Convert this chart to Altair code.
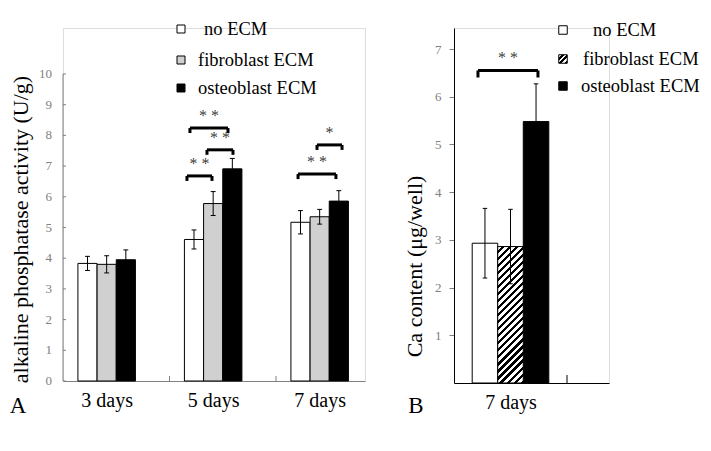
import altair as alt
import pandas as pd

# ---------------- data ----------------
days_a = ["3 days", "5 days", "7 days"]
series = ["no ECM", "fibroblast ECM", "osteoblast ECM"]
alp_no = [3.83, 4.61, 5.17]
alp_fib = [3.80, 5.78, 5.35]
alp_ost = [3.95, 6.91, 5.86]
alp_no_sd = [0.23, 0.31, 0.38]
alp_fib_sd = [0.28, 0.39, 0.24]
alp_ost_sd = [0.32, 0.34, 0.34]
alp_ticks = [0, 1, 2, 3, 4, 5, 6, 7, 8, 9, 10]

sig_a_x1 = [1.164, 1.352, 1.192, 2.207, 2.385]
sig_a_x2 = [1.399, 1.596, 1.549, 2.563, 2.620]
sig_a_y = [6.68, 7.53, 8.24, 6.74, 7.69]
sig_a_txt = ["* *", "* *", "* *", "* *", "*"]

days_b = ["7 days"]
ca_mean = [2.93, 2.86, 5.48]
ca_sd = [0.73, 0.78, 0.79]
ca_ticks = [1, 2, 3, 4, 5, 6, 7]
sig_b_x1 = [0.212]
sig_b_x2 = [0.743]
sig_b_y = [6.55]
sig_b_txt = ["* *"]

# ---------------- layout / style ----------------
FONT = "Liberation Serif"
HA, HB = 353, 355
WA, PXA, PYA = 302, 106.5, 30.7
WB, PXB, PYB = 155, 113.0, 47.71
CA, BWA = 0.41, 0.18
CB, BWB = 0.5, 0.226
GREY = "#808080"
FIB_GREY = "#d0d0d0"
LEG_FS = 18.5


def stripes(n, x2, y2, black=0.45):
    stops = []
    for p in range(n):
        a, b, c = p / n, (p + 1 - black) / n, (p + 1) / n
        stops += [{"color": "white", "offset": a}, {"color": "white", "offset": b},
                  {"color": "black", "offset": b}, {"color": "black", "offset": c}]
    return {"gradient": "linear", "x1": 0, "y1": 0, "x2": x2, "y2": y2, "stops": stops}


def one(**kw):
    return pd.DataFrame({k: [v] for k, v in kw.items()})


# ---------------- panel A ----------------
means_a = [alp_no, alp_fib, alp_ost]
sds_a = [alp_no_sd, alp_fib_sd, alp_ost_sd]
rows = []
for gi, d in enumerate(days_a):
    for si, s in enumerate(series):
        left = gi + CA + (si - 1.5) * BWA
        m, e = means_a[si][gi], sds_a[si][gi]
        rows.append(dict(day=d, series=s, left=left, right=left + BWA, mid=left + BWA / 2,
                         mean=m, lo=m - e, hi=m + e, cl=left + BWA / 2 - 0.023, cr=left + BWA / 2 + 0.023))
dfa = pd.DataFrame(rows)

xA = alt.Scale(domain=[0, WA / PXA], nice=False, zero=False)
yA = alt.Scale(domain=[0, HA / PYA], nice=False)
label_expr_a = " : ".join(
    [f"datum.value < {i + 1} ? '{d}'" for i, d in enumerate(days_a[:-1])]) + f" : '{days_a[-1]}'"

bars_a = alt.Chart(dfa).mark_bar(stroke="black", strokeWidth=1).encode(
    x=alt.X("left:Q", scale=xA, axis=alt.Axis(
        values=[i + CA for i in range(len(days_a))], labelExpr=label_expr_a, title=None,
        ticks=False, grid=False, domainColor=GREY, labelFont=FONT, labelFontSize=20,
        labelColor="black", labelPadding=9)),
    x2="right:Q",
    y=alt.Y("mean:Q", scale=yA, axis=alt.Axis(
        values=alp_ticks, grid=False, domain=False, ticks=False, labels=False,
        title="alkaline phosphatase activity (U/g)", titleFont=FONT, titleFontSize=22,
        titleFontWeight="normal", titleColor="black", titlePadding=31, titleY=201)),
    y2=alt.datum(0),
    color=alt.Color("series:N", scale=alt.Scale(domain=series, range=["white", FIB_GREY, "black"]),
                    legend=None),
)
err_a = alt.Chart(dfa).mark_rule(color="black", strokeWidth=1).encode(x="mid:Q", y="lo:Q", y2="hi:Q")
cap_a_hi = alt.Chart(dfa).mark_rule(color="black", strokeWidth=1).encode(x="cl:Q", x2="cr:Q", y="hi:Q")
cap_a_lo = alt.Chart(dfa).mark_rule(color="black", strokeWidth=1).encode(x="cl:Q", x2="cr:Q", y="lo:Q")

yaxis_a = alt.Chart(one(a=0)).mark_rule(color=GREY, strokeWidth=1).encode(
    x=alt.value(0), y=alt.datum(0), y2=alt.datum(alp_ticks[-1]))
dticks = pd.DataFrame({"t": alp_ticks})
ytick_a = alt.Chart(dticks).mark_rule(color=GREY).encode(
    y="t:Q", x=alt.value(0), x2=alt.value(3))
ylab_a = alt.Chart(dticks).mark_text(font=FONT, fontSize=13, color=GREY, align="right",
                                     baseline="middle").encode(y="t:Q", x=alt.value(-11), text="t:Q")
sep_a = alt.Chart(pd.DataFrame({"s": [1, 2]})).mark_rule(color=GREY).encode(
    x="s:Q", y=alt.value(HA), y2=alt.value(HA - 5))

dsa = pd.DataFrame({"x1": sig_a_x1, "x2": sig_a_x2, "y": sig_a_y, "t": sig_a_txt})
dsa["yd"] = dsa["y"] - 5 / PYA
dsa["ty"] = dsa["y"] + 12 / PYA
br_a = alt.Chart(dsa).mark_rule(color="black", strokeWidth=3).encode(x="x1:Q", x2="x2:Q", y="y:Q")
brl_a = alt.Chart(dsa).mark_rule(color="black", strokeWidth=3).encode(x="x1:Q", y="y:Q", y2="yd:Q")
brr_a = alt.Chart(dsa).mark_rule(color="black", strokeWidth=3).encode(x="x2:Q", y="y:Q", y2="yd:Q")
st_a = alt.Chart(dsa).transform_calculate(xm="(datum.x1 + datum.x2) / 2").mark_text(
    font=FONT, fontSize=16, color="#333333", fillOpacity=0.99, baseline="middle").encode(
    x="xm:Q", y="ty:Q", text="t:N")

leg_a = []
leg_a_fill = ["white", FIB_GREY, "black"]
leg_a_tx = [141, 135, 135]
leg_a_y = [1, 32, 60]
for i, s in enumerate(series):
    d = one(series=s)
    leg_a.append(alt.Chart(d).mark_square(size=64, fill=leg_a_fill[i], stroke="black", strokeWidth=1,
                                          opacity=1).encode(x=alt.value(118), y=alt.value(leg_a_y[i])))
    leg_a.append(alt.Chart(d).mark_text(font=FONT, fontSize=LEG_FS, align="left", baseline="middle",
                                        color="black").encode(
        x=alt.value(leg_a_tx[i]), y=alt.value(leg_a_y[i]), text="series:N"))

letter_a = alt.Chart(one(t="A")).mark_text(font=FONT, fontSize=23, baseline="middle", color="black").encode(
    x=alt.value(-45), y=alt.value(HA + 25), text="t:N")
anchor_a = alt.Chart(one(a=0)).mark_rule(strokeOpacity=0).encode(x=alt.value(0), y=alt.value(-19), y2=alt.value(0))

panel_a = alt.layer(bars_a, err_a, cap_a_hi, cap_a_lo, yaxis_a, ytick_a, ylab_a, sep_a, br_a, brl_a, brr_a,
                    st_a, *leg_a, letter_a, anchor_a).properties(width=WA, height=HA)

# ---------------- panel B ----------------
rows = []
for si, s in enumerate(series):
    left = CB + (si - 1.5) * BWB
    m, e = ca_mean[si], ca_sd[si]
    rows.append(dict(series=s, left=left, right=left + BWB, mid=left + BWB / 2, mean=m,
                     lo=m - e, hi=m + e, cl=left + BWB / 2 - 0.02, cr=left + BWB / 2 + 0.02))
dfb = pd.DataFrame(rows)

xB = alt.Scale(domain=[0, WB / PXB], nice=False, zero=False)
yB = alt.Scale(domain=[0, HB / PYB], nice=False)

bw_px = BWB * PXB
bh_px = ca_mean[1] * PYB
ratio = bw_px / bh_px
k = (1 + ratio) / (1 + ratio * ratio)
hatch = stripes(23, ratio * k, k)

bars_b_plain = alt.Chart(dfb).transform_filter(alt.datum.series != series[1]).mark_bar(
    stroke="black", strokeWidth=1).encode(
    x=alt.X("left:Q", scale=xB, axis=alt.Axis(
        values=[CB], labelExpr=f"'{days_b[0]}'", title=None, ticks=False, grid=False,
        domainColor="black", labelFont=FONT, labelFontSize=20, labelColor="black", labelPadding=9)),
    x2="right:Q",
    y=alt.Y("mean:Q", scale=yB, axis=alt.Axis(
        values=ca_ticks, grid=False, domainColor="black", tickColor=GREY, tickSize=5,
        labelFont=FONT, labelFontSize=13, labelColor=GREY, labelPadding=8, labelOverlap=False,
        title="Ca content (μg/well)", titleFont=FONT, titleFontSize=22, titleFontWeight="normal",
        titleColor="black", titlePadding=8, titleY=238)),
    y2=alt.datum(0),
    color=alt.Color("series:N", scale=alt.Scale(domain=series, range=["white", FIB_GREY, "black"]),
                    legend=None),
)
bars_b_hatch = alt.Chart(dfb).transform_filter(alt.datum.series == series[1]).mark_bar(
    stroke="black", strokeWidth=1, fill=hatch).encode(
    x=alt.X("left:Q", scale=xB), x2="right:Q", y=alt.Y("mean:Q", scale=yB), y2=alt.datum(0))
err_b = alt.Chart(dfb).mark_rule(color="black", strokeWidth=1).encode(x="mid:Q", y="lo:Q", y2="hi:Q")
cap_b_hi = alt.Chart(dfb).mark_rule(color="black", strokeWidth=1).encode(x="cl:Q", x2="cr:Q", y="hi:Q")
cap_b_lo = alt.Chart(dfb).mark_rule(color="black", strokeWidth=1).encode(x="cl:Q", x2="cr:Q", y="lo:Q")
sep_b = alt.Chart(one(s=1.0)).mark_rule(color="black").encode(
    x="s:Q", y=alt.value(HB), y2=alt.value(HB - 8))

dsb = pd.DataFrame({"x1": sig_b_x1, "x2": sig_b_x2, "y": sig_b_y, "t": sig_b_txt})
dsb["yd"] = dsb["y"] - 7 / PYB
dsb["ty"] = dsb["y"] + 12 / PYB
br_b = alt.Chart(dsb).mark_rule(color="black", strokeWidth=3).encode(x="x1:Q", x2="x2:Q", y="y:Q")
brl_b = alt.Chart(dsb).mark_rule(color="black", strokeWidth=3).encode(x="x1:Q", y="y:Q", y2="yd:Q")
brr_b = alt.Chart(dsb).mark_rule(color="black", strokeWidth=3).encode(x="x2:Q", y="y:Q", y2="yd:Q")
st_b = alt.Chart(dsb).transform_calculate(xm="(datum.x1 + datum.x2) / 2").mark_text(
    font=FONT, fontSize=16, color="#333333", fillOpacity=0.99, baseline="middle").encode(
    x="xm:Q", y="ty:Q", text="t:N")

leg_b = []
leg_b_fill = ["white", stripes(3, 1, 1, 0.5), "black"]
leg_b_tx = [139, 129, 127]
leg_b_y = [2, 31, 58]
for i, s in enumerate(series):
    d = one(series=s)
    leg_b.append(alt.Chart(d).mark_square(size=72, fill=leg_b_fill[i], stroke="black", strokeWidth=1,
                                          opacity=1).encode(x=alt.value(109), y=alt.value(leg_b_y[i])))
    leg_b.append(alt.Chart(d).mark_text(font=FONT, fontSize=LEG_FS, align="left", baseline="middle",
                                        color="black").encode(
        x=alt.value(leg_b_tx[i]), y=alt.value(leg_b_y[i]), text="series:N"))

letter_b = alt.Chart(one(t="B")).mark_text(font=FONT, fontSize=23, baseline="middle", color="black").encode(
    x=alt.value(-38), y=alt.value(HB + 23), text="t:N")
anchor_b = alt.Chart(one(a=0)).mark_rule(strokeOpacity=0).encode(x=alt.value(0), y=alt.value(-19), y2=alt.value(0))

panel_b = alt.layer(bars_b_plain, bars_b_hatch, err_b, cap_b_hi, cap_b_lo, sep_b, br_b, brl_b, brr_b, st_b,
                    *leg_b, letter_b, anchor_b).properties(width=WB, height=HB)

chart = alt.hconcat(panel_a, panel_b, spacing=37).properties(
    padding={"left": 0, "top": 0, "right": 0, "bottom": 0}
).configure_view(stroke=None).configure(background="white")

chart.save("out.html", embed_options={"renderer": "svg", "actions": False})
